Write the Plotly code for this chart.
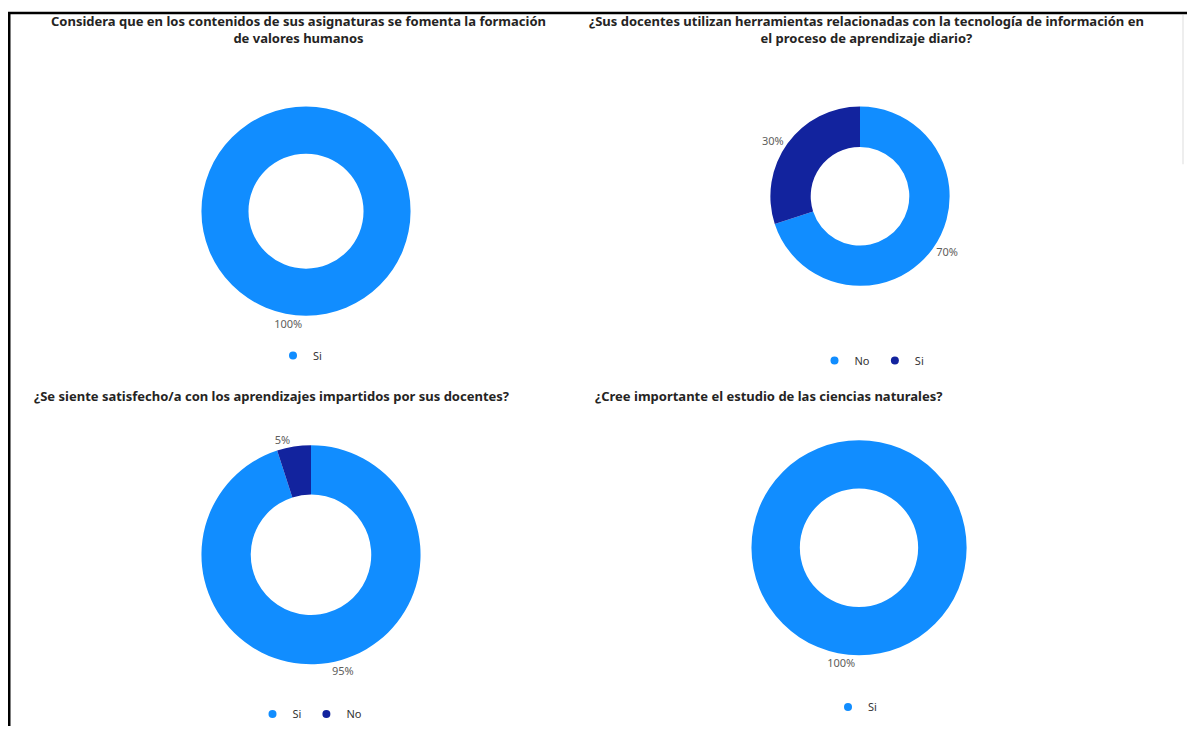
import plotly.graph_objects as go

W, H = 1195, 729
OFF = 8  # margen por defecto del body en la página

# datos de la encuesta
valores_labels = ["Si"]
valores_vals = [100]

tic_labels = ["No", "Si"]
tic_vals = [70, 30]

satisf_labels = ["Si", "No"]
satisf_vals = [95, 5]

ciencias_labels = ["Si"]
ciencias_vals = [100]

titulos = [
    "Considera que en los contenidos de sus asignaturas se fomenta la formación<br>de valores humanos",
    "¿Sus docentes utilizan herramientas relacionadas con la tecnología de información en<br>el proceso de aprendizaje diario?",
    "¿Se siente satisfecho/a con los aprendizajes impartidos por sus docentes?",
    "¿Cree importante el estudio de las ciencias naturales?",
]

AZUL = "#118DFF"
NAVY = "#12239E"

FW, FH = W - OFF, H - OFF


def px_x(x):
    return (x - OFF) / FW


def px_y(y):
    return 1 - (y - OFF) / FH


def dominio(cx, cy, r):
    return dict(x=[px_x(cx - r), px_x(cx + r)], y=[px_y(cy + r), px_y(cy - r)])


fig = go.Figure()

# (labels, values, colores, centro/radio, leyenda)
graficos = [
    (valores_labels, valores_vals, [AZUL], (306, 212, 105), "legend"),
    (tic_labels, tic_vals, [AZUL, NAVY], (860, 197, 90), "legend2"),
    (satisf_labels, satisf_vals, [AZUL, NAVY], (311, 557, 110), "legend3"),
    (ciencias_labels, ciencias_vals, [AZUL], (859, 550, 108), "legend4"),
]

for labels, vals, cols, (cx, cy, r), leg in graficos:
    fig.add_trace(go.Pie(
        labels=labels, values=vals, hole=0.55, sort=False,
        direction="clockwise", rotation=0,
        marker=dict(colors=cols, line=dict(width=0)),
        texttemplate="%{percent:.0%}", textposition="outside",
        outsidetextfont=dict(size=11, color="#605E5C"),
        domain=dominio(cx, cy, r), showlegend=False,
    ))
    # leyenda propia de cada gráfico (marcadores circulares)
    for lab, col in zip(labels, cols):
        fig.add_trace(go.Scatter(
            x=[None], y=[None], mode="markers", name=lab,
            marker=dict(symbol="circle", size=8, color=col),
            legend=leg, showlegend=True, hoverinfo="skip",
        ))

leg_base = dict(orientation="h", xanchor="center", yanchor="middle",
                font=dict(size=11, color="#333333"), bgcolor="rgba(0,0,0,0)",
                itemwidth=30, itemclick=False, itemdoubleclick=False,
                tracegroupgap=0)

fig.update_layout(
    width=FW, height=FH,
    margin=dict(l=0, r=0, t=0, b=0),
    paper_bgcolor="white", plot_bgcolor="white",
    font=dict(family="Noto Sans, Open Sans, sans-serif"),
    xaxis=dict(visible=False), yaxis=dict(visible=False),
    legend=dict(leg_base, x=px_x(300), y=px_y(357)),
    legend2=dict(leg_base, x=px_x(872), y=px_y(362)),
    legend3=dict(leg_base, x=px_x(310), y=px_y(717)),
    legend4=dict(leg_base, x=px_x(855), y=px_y(710)),
)

# títulos
pos_titulos = [(298, 30, "center"), (866, 30, "center"), (32, 398, "left"), (593, 398, "left")]
for txt, (x, y, al) in zip(titulos, pos_titulos):
    fig.add_annotation(
        text="<b>" + txt + "</b>", x=px_x(x), y=px_y(y), xref="paper", yref="paper",
        xanchor=al if al == "left" else "center", yanchor="middle", align="center",
        showarrow=False, font=dict(size=13, color="#252423"),
    )

# marco negro (arriba e izquierda)
fig.add_shape(type="line", xref="paper", yref="paper", layer="above",
              x0=px_x(8), x1=1, y0=px_y(13), y1=px_y(13),
              line=dict(color="black", width=2.5))
fig.add_shape(type="rect", xref="paper", yref="paper", layer="above",
              x0=px_x(8), x1=px_x(10.5), y0=0, y1=px_y(12),
              fillcolor="black", line=dict(width=0))
fig.add_shape(type="line", xref="paper", yref="paper",
              x0=px_x(1183), x1=px_x(1183), y0=px_y(15), y1=px_y(165),
              line=dict(color="#EEEEEE", width=2))

fig.write_html("out.html")
